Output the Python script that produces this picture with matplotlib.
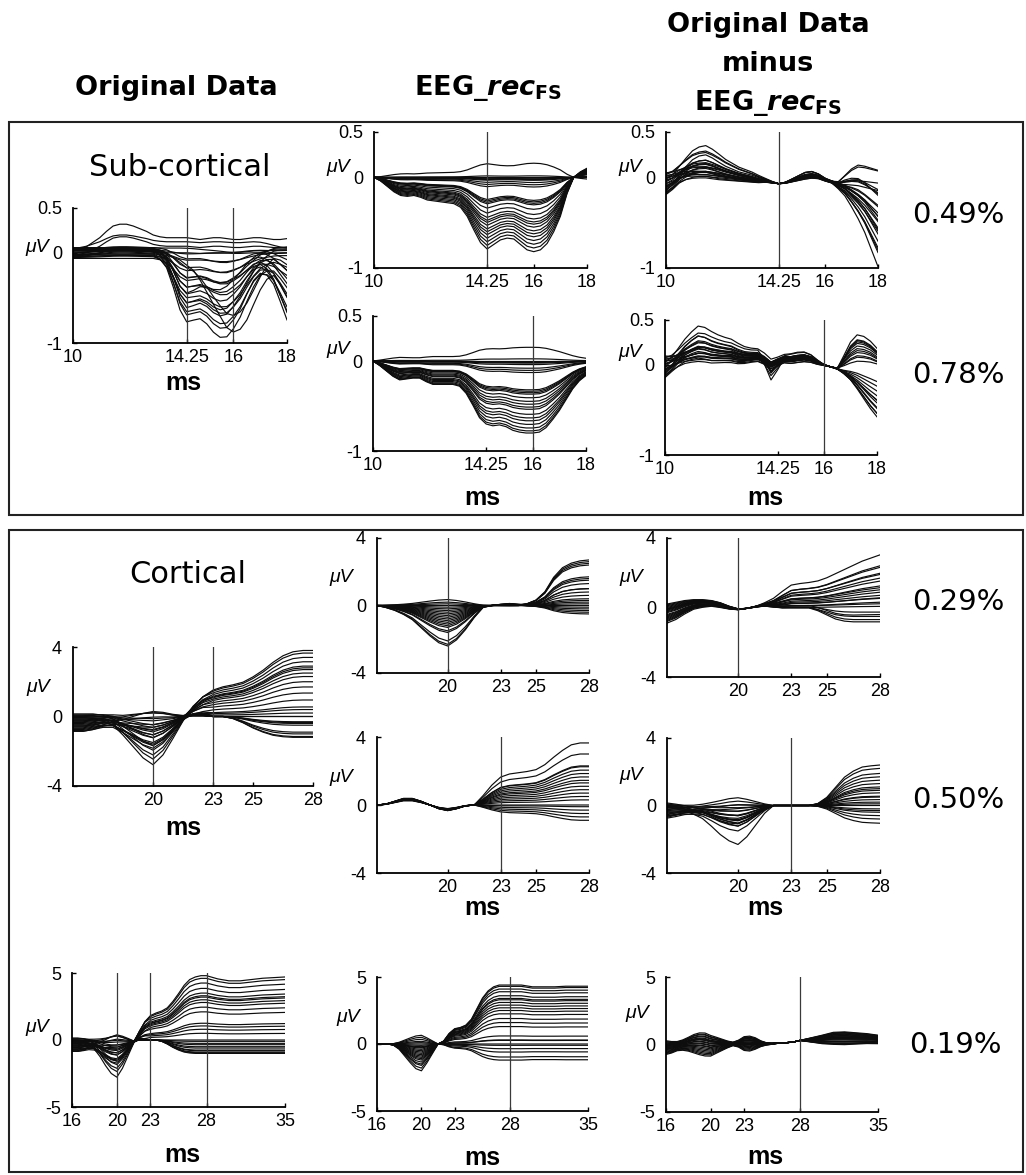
import numpy as np
import matplotlib
matplotlib.use('Agg')
import matplotlib.pyplot as plt
from matplotlib.patches import Rectangle

plt.rcParams['font.family'] = ['Liberation Sans', 'DejaVu Sans']
plt.rcParams['axes.unicode_minus'] = False
plt.rcParams['mathtext.fontset'] = 'custom'
plt.rcParams['mathtext.rm'] = 'DejaVu Sans:bold'
plt.rcParams['mathtext.it'] = 'DejaVu Sans:italic:bold'
plt.rcParams['mathtext.bf'] = 'DejaVu Sans:bold'

W, H = 1026, 1175

# sample times (ms)
t_sub = np.arange(10, 18.001, 0.25)
t_cort = np.arange(16, 28.001, 0.5)
t_long = np.r_[np.arange(16, 28, 0.5), np.arange(28, 35.001, 1.0)]

# ---------------- sub-cortical, reconstructed (source at 14.25 ms) ----------------
rec14_wave = [0.00, -0.04, -0.10, -0.16, -0.20, -0.21, -0.20, -0.22, -0.25, -0.26, -0.27,
              -0.28, -0.29, -0.33, -0.43, -0.58, -0.72, -0.79, -0.74, -0.69, -0.67, -0.68,
              -0.74, -0.80, -0.82, -0.80, -0.73, -0.60, -0.43, -0.18, 0.00, 0.06, 0.10]
rec14_gain = [-0.19, -0.02, 0.0, 0.01, 0.02, 0.03, 0.04, 0.07, 0.1, 0.13, 0.31, 0.33, 0.35,
              0.37, 0.43, 0.5, 0.56, 0.6, 0.63, 0.67, 0.72, 0.76, 0.8, 0.85, 0.9, 0.95, 1.0]

# sub-cortical, reconstructed (source at 16 ms)
rec16_wave = [0.00, -0.05, -0.11, -0.17, -0.21, -0.20, -0.19, -0.19, -0.23, -0.26, -0.26,
              -0.26, -0.26, -0.28, -0.36, -0.49, -0.63, -0.70, -0.72, -0.71, -0.73, -0.77,
              -0.79, -0.80, -0.80, -0.79, -0.74, -0.65, -0.55, -0.43, -0.31, -0.22, -0.16]
rec16_gain = [-0.19, -0.03, 0.0, 0.01, 0.02, 0.03, 0.05, 0.1, 0.13, 0.16, 0.4, 0.42, 0.44,
              0.46, 0.51, 0.56, 0.6, 0.64, 0.67, 0.74, 0.79, 0.83, 0.88, 0.93, 0.97, 1.0]

# sub-cortical, original data
a_dip14 = [0] * 13 + [-0.05, -0.16, -0.40, -0.68, -0.80, -0.74, -0.65, -0.63, -0.65, -0.63,
                      -0.54, -0.40, -0.27, -0.13, -0.05, 0, 0, 0, 0, 0]
a_dip16 = [0] * 17 + [-0.05, -0.12, -0.25, -0.40, -0.55, -0.70, -0.85, -0.92, -0.90, -0.80,
                      -0.62, -0.40, -0.18, 0.0, 0.05, 0.05]
a_tail = [0] * 28 + [-0.05, -0.15, -0.30, -0.48, -0.65]
a_early = [0, 0.02, 0.05, 0.1, 0.15, 0.22, 0.28, 0.3, 0.3, 0.28, 0.25, 0.22, 0.18, 0.16, 0.15,
           0.15, 0.15, 0.15, 0.14, 0.13, 0.14, 0.15, 0.15, 0.14, 0.13, 0.13, 0.14, 0.15, 0.15,
           0.14, 0.13, 0.13, 0.14]
a_weights = [  # dip14, dip16, tail, early
    (0.00, 0.00, 0.0, 1.00), (0.00, 0.00, 0.0, 0.70), (0.00, 0.00, 0.1, 0.50),
    (0.00, 0.00, 0.0, 0.35), (0.05, 0.00, 0.0, 0.20), (0.00, 0.05, 0.2, 0.10),
    (0.10, 0.05, 0.0, 0.15), (0.15, 0.10, 0.4, 0.00), (0.20, 0.08, 0.0, 0.05),
    (0.25, 0.15, 0.6, 0.10), (0.30, 0.12, 0.3, 0.00), (0.35, 0.20, 0.8, 0.05),
    (0.40, 0.18, 0.0, 0.00), (0.45, 0.25, 1.0, 0.10), (0.50, 0.22, 0.5, 0.00),
    (0.55, 0.30, 0.2, 0.05), (0.60, 0.28, 1.1, 0.00), (0.65, 0.35, 0.7, 0.10),
    (0.70, 0.30, 0.0, 0.00), (0.75, 0.40, 0.9, 0.05), (0.80, 0.35, 0.4, 0.00),
    (0.85, 0.45, 1.2, 0.10), (0.90, 0.50, 0.6, 0.00), (0.20, 0.70, 0.3, 0.00),
    (0.10, 0.90, 0.8, 0.00), (0.60, 0.10, 0.0, 0.00)]
a_offset = [0.02, -0.03, 0.05, -0.05, 0.0, 0.04, -0.02, 0.06, -0.04, 0.03, -0.06, 0.01, 0.05,
            -0.02, 0.03, -0.05, 0.04, -0.03, 0.02, -0.04, 0.05, 0.0, -0.02, 0.03, -0.01, 0.04]

# sub-cortical residual (14.25 ms fit)
c1_early = [0, 0.1, 0.3, 0.55, 0.8, 0.95, 1.0, 0.9, 0.75, 0.6, 0.5, 0.4, 0.35, 0.3, 0.22, 0.12,
            0.05, 0, 0, 0.05, 0.1, 0.15, 0.15, 0.1, 0.05, 0, 0, 0, 0, 0, 0, 0, 0]
c1_spread = [1, 0.8, 0.6, 0.5, 0.45, 0.4, 0.4, 0.4, 0.4, 0.35, 0.3, 0.25, 0.2, 0.15, 0.1, 0.05,
             0.02, 0, 0.05, 0.1, 0.15, 0.2, 0.2, 0.15, 0.1, 0.1, 0.15, 0.2, 0.25, 0.3, 0.35,
             0.35, 0.35]
c1_tail = [0] * 26 + [-0.05, -0.13, -0.25, -0.38, -0.52, -0.70, -0.88]
c1_up = [0] * 27 + [0.4, 0.8, 1.0, 0.9, 0.75, 0.6]
c1_common = [-0.07, -0.04, 0.0, 0.02, 0.03, 0.03, 0.03, 0.02, 0.01, 0.0, -0.01, -0.02, -0.03,
             -0.04, -0.05, -0.05, -0.06, -0.07, -0.06, -0.04, -0.02, 0.0, 0.01, 0.0, -0.03,
             -0.05, -0.06, -0.05, -0.04, -0.03, -0.03, -0.03, -0.03]
c1_weights = [  # early, spread, tail, up
    (0.30, 0.05, 0.00, 0.15), (0.25, -0.08, 0.10, 0.00), (0.22, 0.10, 0.30, 0.10),
    (0.18, -0.05, 0.50, 0.00), (0.15, 0.02, 0.20, 0.05), (0.12, -0.10, 0.60, 0.00),
    (0.10, 0.08, 0.00, 0.12), (0.08, -0.03, 0.40, 0.00), (0.06, 0.06, 0.70, 0.00),
    (0.05, -0.06, 0.15, 0.08), (0.04, 0.12, 0.55, 0.00), (0.03, -0.12, 0.80, 0.00),
    (0.02, 0.04, 0.35, 0.00), (0.01, -0.02, 0.90, 0.00), (0.00, 0.09, 0.25, 0.06),
    (0.00, -0.09, 1.05, 0.00), (-0.02, 0.00, 0.45, 0.00), (-0.03, 0.07, 0.65, 0.00),
    (0.05, -0.04, 0.75, 0.00), (0.10, 0.03, 0.05, 0.00), (0.15, -0.07, 0.85, 0.00),
    (0.20, 0.11, 0.50, 0.00), (0.07, -0.11, 0.30, 0.04), (0.12, 0.00, 0.60, 0.00)]

# sub-cortical residual (16 ms fit)
c2_early = [0, 0.15, 0.4, 0.65, 0.85, 1.0, 0.95, 0.85, 0.75, 0.68, 0.62, 0.52, 0.42, 0.35, 0.3,
            0.25, 0.2, 0.15, 0.15, 0.2, 0.22, 0.2, 0.15, 0.08, 0] + [0] * 8
c2_spread = [1, 0.7, 0.5, 0.4, 0.4, 0.45, 0.5, 0.5, 0.45, 0.4, 0.4, 0.4, 0.35, 0.3, 0.3, 0.3,
             0.3, 0.3, 0.3, 0.3, 0.3, 0.3, 0.25, 0.15, 0.05, 0, 0.05, 0.1, 0.1, 0.1, 0.1, 0.1,
             0.1]
c2_dip14 = [0] * 15 + [-0.4, -1.0, -0.6, -0.1, 0] + [0] * 13
c2_up = [0] * 27 + [0.4, 0.8, 1.0, 0.95, 0.8, 0.6]
c2_down = [0] * 27 + [-0.1, -0.25, -0.45, -0.65, -0.85, -1.0]
c2_common = [-0.02, 0.0, 0.02, 0.04, 0.05, 0.06, 0.06, 0.05, 0.05, 0.05, 0.05, 0.04, 0.04, 0.05,
             0.06, 0.03, -0.02, 0.02, 0.05, 0.04, 0.05, 0.06, 0.05, 0.02, 0.0, -0.02, -0.04,
             -0.04, -0.03, -0.02, -0.02, -0.02, -0.03]
c2_weights = [  # early, spread, dip14, up, down
    (0.35, 0.05, 0.00, 0.35, 0.00), (0.30, -0.08, 0.00, 0.30, 0.00), (0.25, 0.10, 0.15, 0.25, 0.00),
    (0.22, -0.05, 0.00, 0.00, 0.20), (0.20, 0.02, 0.10, 0.20, 0.00), (0.17, -0.10, 0.00, 0.00, 0.35),
    (0.15, 0.08, 0.20, 0.15, 0.00), (0.13, -0.03, 0.00, 0.00, 0.45), (0.11, 0.06, 0.00, 0.10, 0.00),
    (0.10, -0.06, 0.05, 0.00, 0.50), (0.08, 0.12, 0.00, 0.05, 0.00), (0.07, -0.12, 0.00, 0.00, 0.30),
    (0.05, 0.04, 0.12, 0.00, 0.55), (0.04, -0.02, 0.00, 0.28, 0.00), (0.03, 0.09, 0.00, 0.00, 0.40),
    (0.02, -0.09, 0.00, 0.00, 0.25), (0.00, 0.00, 0.00, 0.18, 0.00), (0.00, 0.07, 0.00, 0.00, 0.45),
    (0.06, -0.04, 0.00, 0.00, 0.15), (0.12, 0.03, 0.08, 0.12, 0.00), (0.18, -0.07, 0.00, 0.00, 0.50),
    (0.09, 0.11, 0.00, 0.22, 0.00), (0.14, -0.11, 0.00, 0.00, 0.35), (0.26, 0.00, 0.00, 0.30, 0.00)]

# ---------------- cortical, 16-28 ms ----------------
d_dip = [0, 0, 0, -0.05, -0.15, -0.35, -0.6, -0.85, -1.0, -0.8, -0.45, -0.1, 0.05, 0.05, 0] + [0] * 10
d_rise = [0] * 12 + [0.12, 0.28, 0.4, 0.45, 0.48, 0.52, 0.6, 0.7, 0.82, 0.92, 0.98, 1.0, 1.0]
d_fall = [0] * 16 + [-0.1, -0.3, -0.55, -0.75, -0.9, -0.97, -1.0, -1.0, -1.0]
d_spread = [1, 1, 0.9, 0.7, 0.5, 0.4, 0.35, 0.3, 0.25, 0.2, 0.1, 0] + [0] * 13
d_common = [-0.35, -0.35, -0.3, -0.2, -0.15, -0.2, -0.2, -0.2, -0.2, -0.15, -0.1, 0.0, 0.05,
            0.05, 0.0] + [0] * 10
d_weights = [  # dip, rise, fall, spread
    (0.5, 3.8, 0, 0.3), (1.2, 3.65, 0, -0.4), (2.6, 3.4, 0, 0.1), (0.8, 3.15, 0, -0.2),
    (1.6, 2.9, 0, 0.5), (0.3, 2.8, 0, -0.5), (2.3, 2.7, 0, 0.2), (1.0, 2.5, 0, -0.1),
    (-0.3, 2.3, 0, 0.4), (1.4, 2.0, 0, -0.3), (0.6, 1.7, 0, 0.0), (1.8, 1.35, 0, 0.25),
    (-0.6, 0.95, 0, -0.45), (0.9, 0.55, 0, 0.15), (0.2, 0.4, 0, -0.25), (1.1, 0.2, 0, 0.35),
    (-0.2, 0, 0.3, -0.15), (0.7, 0, 0.4, 0.05), (1.3, 0, 0.5, -0.35), (0.4, 0, 0.9, 0.45),
    (2.0, 0, 1.0, -0.05), (0.1, 0, 1.15, 0.2), (1.5, 0, 1.2, -0.5), (-0.4, 0, 0, 0.1),
    (0.5, 0, 0, -0.2), (0.0, 0, 0.35, 0.3)]

e1_dip = [0, -0.05, -0.12, -0.22, -0.35, -0.55, -0.75, -0.92, -1.0, -0.85, -0.6, -0.3, -0.05,
          0, 0.03, 0.05, 0.03, 0] + [0] * 7
e1_rise = [0] * 17 + [0.04, 0.12, 0.3, 0.62, 0.83, 0.93, 0.98, 1.0]
e1_weights = [  # dip, rise
    (2.4, 1.0), (2.3, 0.3), (2.1, 1.6), (1.6, -0.2), (1.5, 0.8), (1.3, 2.4), (1.2, 0.0),
    (1.1, 1.3), (1.0, -0.4), (0.9, 0.6), (0.8, 2.6), (0.7, 0.1), (0.6, 1.7), (0.5, -0.5),
    (0.4, 0.4), (0.3, 2.7), (0.2, -0.1), (0.1, 1.5), (0.0, 0.2), (-0.1, -0.3), (-0.2, 2.5),
    (-0.35, 1.0)]

e2_early = [0, 0.05, 0.2, 0.35, 0.35, 0.2, 0.0, -0.2, -0.3, -0.2, -0.05, 0, 0] + [0] * 12
e2_rise = [0] * 12 + [0.15, 0.32, 0.45, 0.5, 0.52, 0.54, 0.57, 0.65, 0.77, 0.88, 0.97, 1.0, 1.0]
e2_weights = [  # early, rise
    (1.0, 3.65), (0.9, 3.0), (1.1, 2.25), (0.8, 2.05), (1.0, 1.85), (0.95, 1.65), (0.85, 1.45),
    (1.05, 1.1), (0.9, 0.9), (0.75, 0.7), (1.0, 0.3), (0.95, 0.0), (0.8, -0.1), (1.1, -0.5),
    (0.9, -0.7), (0.85, -0.9), (1.0, 2.3), (0.7, 0.5), (0.95, 1.3), (1.05, -0.3)]

f1_rise = [0] * 11 + [0.05, 0.15, 0.3, 0.42, 0.45, 0.47, 0.5, 0.56, 0.64, 0.72, 0.8, 0.88, 0.94, 1.0]
f1_fall = [0] * 17 + [-0.2, -0.5, -0.8, -0.95, -1.0, -1.0, -1.0, -1.0]
f1_spread = [1, 0.9, 0.7, 0.5, 0.4, 0.3, 0.25, 0.15, 0.05, 0.0, 0.05, 0.08, 0.1, 0.1, 0.1] + [0.1] * 10
f1_common = [-0.3, -0.15, 0.05, 0.2, 0.25, 0.25, 0.15, 0.0, -0.1, -0.05, 0.05, 0.1, 0.05] + [0] * 12
f1_weights = [  # rise, fall, spread
    (3.0, 0, 0.3), (2.45, 0, -0.5), (2.3, 0, 0.1), (2.0, 0, -0.3), (1.85, 0, 0.5), (1.7, 0, -0.1),
    (1.5, 0, 0.2), (1.3, 0, -0.6), (1.1, 0, 0.4), (0.9, 0, -0.2), (0.7, 0, 0.0), (0.5, 0, 0.25),
    (0.35, 0, -0.45), (0.2, 0, 0.15), (0.1, 0, -0.35), (0.0, 0.3, 0.35), (0.0, 0.5, -0.15),
    (0.0, 0.7, 0.05), (0.0, 0.8, -0.25), (0.15, 0.6, 0.45), (0.6, 0.0, -0.4), (1.0, 0.0, 0.2)]

f2_dip = [0, -0.05, -0.1, -0.18, -0.3, -0.5, -0.72, -0.9, -1.0, -0.8, -0.5, -0.2, 0] + [0] * 12
f2_rise = [0] * 17 + [0.05, 0.2, 0.45, 0.7, 0.85, 0.95, 0.98, 1.0]
f2_spread = [1, 0.8, 0.55, 0.35, 0.25, 0.25, 0.25, 0.25, 0.2, 0.15, 0.1, 0.05, 0] + [0] * 12
f2_common = [-0.3, -0.25, -0.2, -0.18, -0.15, -0.15, -0.15, -0.12, -0.1, -0.08, -0.05, -0.02, 0] + [0] * 12
f2_weights = [  # dip, rise, spread
    (2.25, 0.5, 0.2), (1.35, 2.4, -0.3), (1.2, -0.2, 0.4), (1.1, 1.7, -0.1), (1.0, 0.0, 0.3),
    (0.9, 2.2, -0.45), (0.8, -0.6, 0.1), (0.7, 1.3, -0.2), (0.6, 0.35, 0.45), (0.5, 1.9, 0.0),
    (0.4, -1.05, -0.35), (0.3, 1.1, 0.25), (0.2, -0.4, -0.15), (0.1, 0.75, 0.35), (0.0, 1.5, -0.4),
    (-0.1, 0.55, 0.15), (-0.2, -0.3, -0.25), (-0.35, 0.9, 0.05), (-0.5, 0.2, 0.3), (0.8, 1.0, -0.05),
    (1.0, -0.8, 0.2), (0.6, 0.1, -0.3)]

# ---------------- cortical, 16-35 ms ----------------
g1_dip = [0, 0, -0.03, -0.08, -0.2, -0.4, -0.65, -0.88, -1.0, -0.75, -0.4, -0.05, 0.05, 0.05, 0] + [0] * 17
g1_rise = [0] * 12 + [0.12, 0.28, 0.38, 0.42, 0.45, 0.5, 0.6, 0.72, 0.85, 0.94, 0.98, 1.0,
                      1.0, 0.95, 0.92, 0.92, 0.94, 0.96, 0.97, 0.98]
g1_fall = [0] * 16 + [-0.1, -0.3, -0.55, -0.75, -0.9, -0.97, -1.0, -1.0] + [-1.0] * 8
g1_spread = [1, 1, 0.9, 0.7, 0.5, 0.4, 0.35, 0.3, 0.25, 0.15, 0.05, 0] + [0] * 20
g1_common = [-0.35, -0.35, -0.3, -0.25, -0.2, -0.2, -0.2, -0.15, -0.1, -0.1, -0.1, -0.1] + [0] * 20
g1_weights = [  # dip, rise, fall, spread
    (0.5, 4.8, 0, 0.3), (1.2, 4.6, 0, -0.4), (2.7, 4.25, 0, 0.1), (0.8, 3.85, 0, -0.2),
    (1.6, 3.5, 0, 0.5), (0.3, 3.2, 0, -0.5), (2.3, 3.0, 0, 0.2), (1.0, 2.8, 0, -0.1),
    (-0.3, 2.45, 0, 0.4), (1.4, 2.1, 0, -0.3), (0.6, 1.05, 0, 0.0), (1.8, 0.8, 0, 0.25),
    (-0.6, 0.5, 0, -0.45), (0.9, 1.25, 0, 0.15), (0.2, 0, 0.1, -0.25), (1.1, 0, 0.25, 0.35),
    (-0.2, 0, 0.5, -0.15), (0.7, 0, 0.75, 0.05), (1.3, 0, 1.0, -0.35), (0.4, 0, 0.9, 0.45),
    (2.0, 0, 0.6, -0.05), (0.1, 0, 0.95, 0.2), (1.5, 0, 0.35, -0.5), (-0.4, 0, 0, 0.1),
    (0.5, 3.3, 0, -0.2), (0.0, 0, 0.8, 0.3)]

g2_dip = [0, 0, 0, -0.05, -0.2, -0.45, -0.7, -0.92, -1.0, -0.7, -0.35, 0] + [0] * 20
g2_rise = [0] * 12 + [0.05, 0.18, 0.26, 0.28, 0.32, 0.42, 0.6, 0.78, 0.9, 0.97, 1.0, 1.0,
                      1.0, 1.0, 0.97, 0.97, 0.97, 0.98, 0.98, 0.98]
g2_weights = [  # dip, rise
    (2.0, 0.6), (1.8, 4.4), (1.6, 0.0), (1.5, 3.6), (1.35, -0.97), (1.2, 2.9), (1.1, 1.3),
    (1.0, 4.1), (0.9, -0.35), (0.8, 2.25), (0.7, 3.1), (0.6, 0.27), (0.5, 3.9), (0.4, -1.2),
    (0.3, 1.9), (0.2, 3.4), (0.1, 2.5), (0.0, -0.1), (-0.1, 2.7), (-0.2, 3.3), (-0.35, 1.6),
    (-0.5, 0.3), (-0.65, 4.3), (0.25, -0.6)]

g3_a = [0.6, 0.5, 0.4, 0.45, 0.6, 0.8, 0.95, 1.0, 0.9, 0.7, 0.5, 0.3, 0.15, 0.3, 0.6, 0.65,
        0.5, 0.25, 0.1, 0.05, 0.02, 0, 0, 0] + [0] * 8
g3_b = [0] * 24 + [0.0, 0.3, 0.6, 0.85, 0.9, 0.8, 0.7, 0.6]
g3_common = [-0.2, -0.18, -0.1, -0.02, 0.05, 0.1, 0.1, 0.05, -0.05, -0.02, 0.0, 0.02, 0.05,
             0.08, 0.1, 0.1, 0.1, 0.07, 0.05, 0.06, 0.1, 0.12, 0.15, 0.2,
             0.3, 0.3, 0.3, 0.35, 0.35, 0.35, 0.35, 0.3]
g3_weights = [  # a, b
    (0.8, 0.6), (-0.9, -0.3), (0.5, 0.2), (-0.5, 0.65), (0.3, -0.4), (-0.3, 0.4), (0.65, 0.0),
    (-0.7, 0.3), (0.15, -0.2), (-0.15, 0.5), (0.4, 0.1), (-0.4, -0.1), (0.0, 0.35), (0.55, -0.3),
    (-0.6, 0.15), (0.25, 0.45), (-0.2, -0.35), (0.7, 0.25), (-0.8, 0.55), (0.1, -0.15),
    (0.35, 0.05), (-0.05, 0.2)]

percent_labels = ['0.49%', '0.78%', '0.29%', '0.50%', '0.19%']


def mix(waves, weights, common=None, offset=None):
    tr = np.array(weights, dtype=float) @ np.array(waves, dtype=float)
    if common is not None:
        tr = tr + np.array(common, dtype=float)
    if offset is not None:
        tr = tr + np.array(offset, dtype=float)[:, None]
    return tr


fig = plt.figure(figsize=(W / 100, H / 100), dpi=100)


def ftext(x, y, s, **kw):
    fig.text(x / W, 1 - y / H, s, ha='center', va='center', **kw)


def add_panel(box, t, traces, xlim, ylim, xticks, yticks, marks, mu, ms=None):
    l, r, top, bot = box
    ax = fig.add_axes([l / W, 1 - bot / H, (r - l) / W, (bot - top) / H])
    for tr in traces:
        ax.plot(t, tr, color='#0d0d0d', lw=0.85)
    for m in marks:
        ax.axvline(m, color='#3a3a3a', lw=0.9)
    ax.set_xlim(xlim)
    ax.set_ylim(ylim)
    ax.set_xticks(xticks)
    ax.set_xticklabels(['%g' % v for v in xticks])
    ax.set_yticks(yticks)
    ax.set_yticklabels(['%g' % v for v in yticks])
    for s in ['top', 'right']:
        ax.spines[s].set_visible(False)
    for s in ['left', 'bottom']:
        ax.spines[s].set_linewidth(1.3)
    ax.tick_params(direction='in', length=3, width=1, labelsize=13)
    ax.tick_params(axis='x', pad=4)
    ax.tick_params(axis='y', pad=8)
    ftext(mu[0], mu[1], 'μV', fontsize=14, style='italic')
    if ms is not None:
        ftext(ms[0], ms[1], 'ms', fontsize=18, fontweight='bold')
    return ax


sub_xt = [10, 14.25, 16, 18]
sub_yt = [-1, 0, 0.5]
cort_xt = [20, 23, 25, 28]
cort_yt = [-4, 0, 4]
long_xt = [16, 20, 23, 28, 35]
long_yt = [-5, 0, 5]

# sub-cortical block
add_panel((73, 287, 208, 343), t_sub, mix([a_dip14, a_dip16, a_tail, a_early], a_weights, offset=a_offset),
          (10, 18), (-1, 0.5), sub_xt, sub_yt, [14.25, 16], (37, 247), (183, 383))
add_panel((374, 587, 132, 268), t_sub, np.outer(rec14_gain, rec14_wave),
          (10, 18), (-1, 0.5), sub_xt, sub_yt, [14.25], (338, 168))
add_panel((373, 586, 316, 451), t_sub, np.outer(rec16_gain, rec16_wave),
          (10, 18), (-1, 0.5), sub_xt, sub_yt, [16], (338, 350), (482, 498))
add_panel((666, 878, 132, 268), t_sub, mix([c1_early, c1_spread, c1_tail, c1_up], c1_weights, c1_common),
          (10, 18), (-1, 0.5), sub_xt, sub_yt, [14.25], (630, 168))
add_panel((665, 877, 320, 455), t_sub,
          mix([c2_early, c2_spread, c2_dip14, c2_up, c2_down], c2_weights, c2_common),
          (10, 18), (-1, 0.5), sub_xt, sub_yt, [16], (630, 352), (765, 498))

# cortical block
add_panel((73, 313, 647, 786), t_cort, mix([d_dip, d_rise, d_fall, d_spread], d_weights, d_common),
          (16, 28), (-4, 4), cort_xt, cort_yt, [20, 23], (38, 687), (183, 828))
add_panel((377, 589, 538, 673), t_cort, mix([e1_dip, e1_rise], e1_weights),
          (16, 28), (-4, 4), cort_xt, cort_yt, [20], (341, 577))
add_panel((377, 589, 737, 873), t_cort, mix([e2_early, e2_rise], e2_weights),
          (16, 28), (-4, 4), cort_xt, cort_yt, [23], (341, 777), (482, 908))
add_panel((667, 880, 538, 677), t_cort, mix([f1_rise, f1_fall, f1_spread], f1_weights, f1_common),
          (16, 28), (-4, 4), cort_xt, cort_yt, [20], (631, 577))
add_panel((667, 880, 738, 873), t_cort, mix([f2_dip, f2_rise, f2_spread], f2_weights, f2_common),
          (16, 28), (-4, 4), cort_xt, cort_yt, [23], (631, 775), (765, 908))

add_panel((72, 285, 973, 1107), t_long, mix([g1_dip, g1_rise, g1_fall, g1_spread], g1_weights, g1_common),
          (16, 35), (-5, 5), long_xt, long_yt, [20, 23, 28], (37, 1027), (182, 1155))
add_panel((377, 588, 977, 1111), t_long, mix([g2_dip, g2_rise], g2_weights),
          (16, 35), (-5, 5), long_xt, long_yt, [28], (348, 1017), (482, 1158))
add_panel((666, 878, 977, 1112), t_long, mix([g3_a, g3_b], g3_weights, g3_common),
          (16, 35), (-5, 5), long_xt, long_yt, [28], (637, 1013), (765, 1157))

# column headings
head = dict(fontsize=19.5, fontweight='bold', family='DejaVu Sans')
rec_label = r'EEG_$\mathit{rec}_{\mathrm{FS}}$'
ftext(176, 88, 'Original Data', **head)
ftext(488, 88, rec_label, **head)
ftext(768, 25, 'Original Data', **head)
ftext(768, 64, 'minus', **head)
ftext(768, 103, rec_label, **head)

ftext(180, 167, 'Sub-cortical', fontsize=22, family='DejaVu Sans')
ftext(188, 575, 'Cortical', fontsize=22, family='DejaVu Sans')

for lab, (x, y) in zip(percent_labels, [(958, 215), (958, 375), (958, 602), (958, 800), (955, 1045)]):
    ftext(x, y, lab, fontsize=21, family='DejaVu Sans')

# frames around the two blocks
for y0, y1 in [(122, 515), (530, 1172)]:
    fig.add_artist(Rectangle((9 / W, 1 - y1 / H), (1023 - 9) / W, (y1 - y0) / H,
                             transform=fig.transFigure, fill=False, lw=1.5, ec='#222222'))

fig.savefig('out.png', dpi=100)
